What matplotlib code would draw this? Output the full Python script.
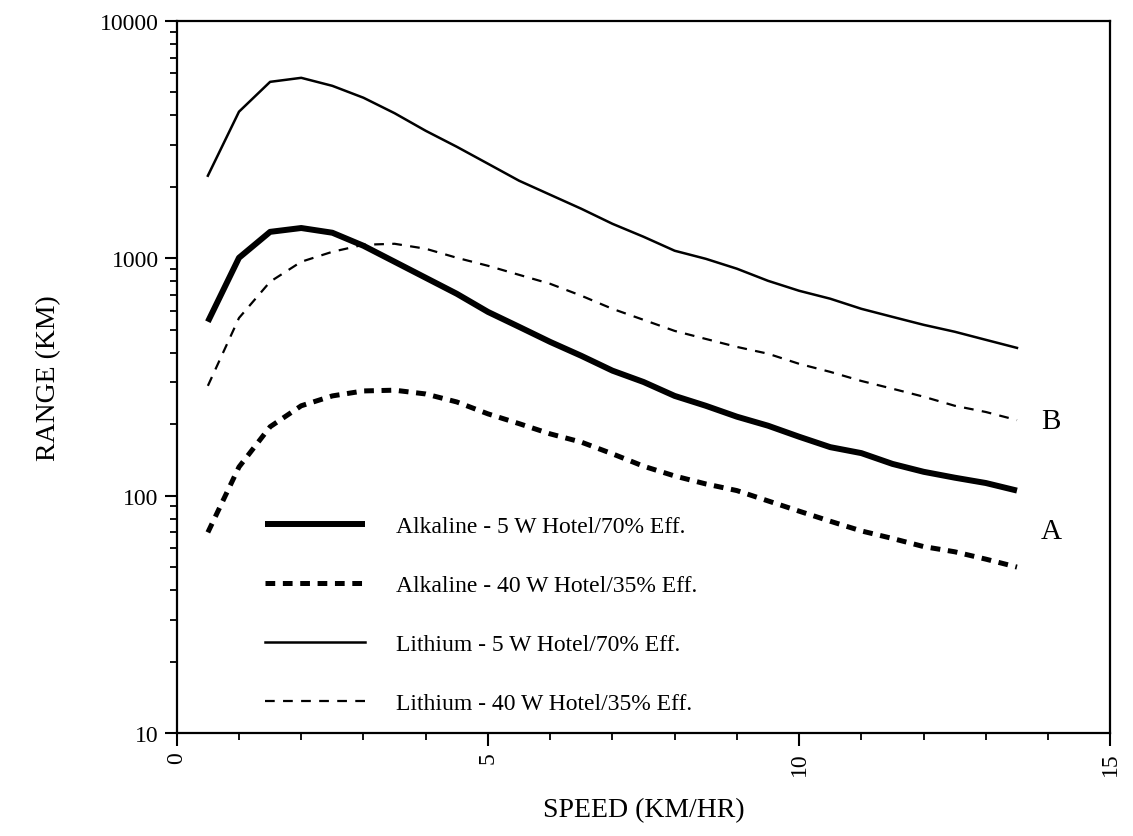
import numpy as np
import matplotlib
matplotlib.use("Agg")
import matplotlib.pyplot as plt
from matplotlib.ticker import FixedLocator, LogLocator, NullFormatter

plt.rcParams["font.family"] = ["Liberation Serif", "DejaVu Serif"]
plt.rcParams["lines.scale_dashes"] = False

# speed in km/hr
speed = [0.5, 1.0, 1.5, 2.0, 2.5, 3.0, 3.5, 4.0, 4.5, 5.0, 5.5, 6.0, 6.5, 7.0,
         7.5, 8.0, 8.5, 9.0, 9.5, 10.0, 10.5, 11.0, 11.5, 12.0, 12.5, 13.0, 13.5]

# range in km
alk_5w = [540, 1004, 1291, 1340, 1280, 1128, 966, 827, 708, 594, 514, 444, 388,
          336, 301, 263, 239, 215, 197, 177, 160, 151, 136, 126, 119, 113, 105]
alk_40w = [70, 132, 195, 239, 263, 276, 278, 268, 248, 221, 201, 182, 168, 150,
           133, 121, 112, 105, 95, 86, 78, 71, 66, 61, 58, 54, 50]
li_5w = [2225, 4140, 5530, 5750, 5320, 4740, 4080, 3440, 2946, 2500, 2120, 1850,
         1615, 1396, 1231, 1075, 994, 903, 803, 729, 675, 612, 566, 524, 490, 453, 419]
li_40w = [290, 560, 796, 966, 1064, 1139, 1150, 1096, 1004, 929, 851, 780, 695,
          612, 550, 494, 457, 423, 396, 359, 332, 304, 282, 261, 239, 225, 208]

labels = ["Alkaline - 5 W Hotel/70% Eff.",
          "Alkaline - 40 W Hotel/35% Eff.",
          "Lithium - 5 W Hotel/70% Eff.",
          "Lithium - 40 W Hotel/35% Eff."]

fig = plt.figure(figsize=(11.33, 8.37), dpi=100)
ax = fig.add_axes([0.156, 0.123, 0.824, 0.851])

ax.plot(speed, alk_5w, color="black", lw=4.3, solid_capstyle="butt", label=labels[0])
ax.plot(speed, alk_40w, color="black", lw=3.6, dashes=(7, 5.5), label=labels[1])
ax.plot(speed, li_5w, color="black", lw=1.8, label=labels[2])
ax.plot(speed, li_40w, color="black", lw=1.6, dashes=(7, 6), label=labels[3])

ax.set_yscale("log")
ax.set_xlim(0, 15)
ax.set_ylim(10, 10000)

ax.set_yticks([10, 100, 1000, 10000])
ax.set_yticklabels(["10", "100", "1000", "10000"])
ax.yaxis.set_minor_locator(LogLocator(base=10, subs=np.arange(2, 10)))
ax.yaxis.set_minor_formatter(NullFormatter())
ax.set_xticks([0, 5, 10, 15])
ax.set_xticklabels(["0", "5", "10", "15"], rotation=90)
ax.xaxis.set_minor_locator(FixedLocator([1, 2, 3, 4, 6, 7, 8, 9, 11, 12, 13, 14]))

ax.tick_params(which="major", direction="out", length=9, width=1.5, labelsize=17,
               top=False, right=False, pad=4)
ax.tick_params(which="minor", direction="out", length=5, width=1.3,
               top=False, right=False)
for s in ax.spines.values():
    s.set_linewidth(1.6)

ax.set_xlabel("SPEED (KM/HR)", fontsize=20, labelpad=16)
ax.set_ylabel("RANGE (KM)", fontsize=20, labelpad=28)

ax.text(14.05, 207, "B", fontsize=21, ha="center", va="center")
ax.text(14.05, 71, "A", fontsize=21, ha="center", va="center")

ax.legend(loc="upper left", bbox_to_anchor=(0.094, 0.305), frameon=False,
          fontsize=17, handlelength=4.25, handletextpad=1.3,
          labelspacing=1.58, borderpad=0, borderaxespad=0)

fig.savefig("out.png", dpi=100)
